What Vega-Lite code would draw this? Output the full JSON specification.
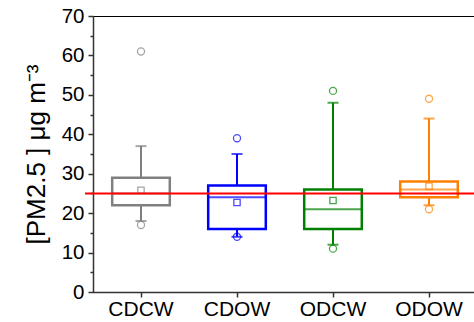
{
  "$schema": "https://vega.github.io/schema/vega-lite/v6.json",
  "width": 384,
  "height": 276,
  "autosize": {"type": "none"},
  "padding": {"left": 93, "top": 16, "right": 0, "bottom": 30},
  "background": "white",
  "config": {
    "view": {"stroke": "#000", "strokeWidth": 1},
    "font": "Liberation Sans"
  },
  "resolve": {"axis": {"y": "independent"}},
  "datasets": {
    "boxes": [
      {"cat": "CDCW", "wlo": 18, "q1": 22, "med": 25, "q3": 29, "whi": 37, "mean": 25.8},
      {"cat": "CDOW", "wlo": 14, "q1": 16, "med": 24, "q3": 27, "whi": 35, "mean": 22.7},
      {"cat": "ODCW", "wlo": 12, "q1": 16, "med": 21, "q3": 26, "whi": 48, "mean": 23.2},
      {"cat": "ODOW", "wlo": 22, "q1": 24, "med": 26, "q3": 28, "whi": 44, "mean": 26.8}
    ],
    "outliers": [
      {"cat": "CDCW", "v": 61}, {"cat": "CDCW", "v": 17},
      {"cat": "CDOW", "v": 39}, {"cat": "CDOW", "v": 14},
      {"cat": "ODCW", "v": 51}, {"cat": "ODCW", "v": 11},
      {"cat": "ODOW", "v": 49}, {"cat": "ODOW", "v": 21}
    ]
  },
  "encoding": {
    "x": {
      "field": "cat", "type": "nominal",
      "sort": ["CDCW", "CDOW", "ODCW", "ODOW"],
      "scale": {"paddingInner": 0, "paddingOuter": 0},
      "axis": {
        "title": null, "labelAngle": 0, "labelFontSize": 21, "labelColor": "#000",
        "labelFont": "Liberation Sans", "tickSize": 5, "tickColor": "#333", "domainColor": "#333",
        "labelPadding": 1, "domainWidth": 1.5, "tickWidth": 1.5
      }
    },
    "color": {
      "field": "cat", "type": "nominal",
      "scale": {"domain": ["CDCW", "CDOW", "ODCW", "ODOW"], "range": ["#808080", "#0000FF", "#008000", "#FF8000"]},
      "legend": null
    }
  },
  "layer": [
    {
      "data": {"name": "boxes"},
      "mark": {"type": "rule", "strokeWidth": 2},
      "encoding": {
        "y": {
          "field": "wlo", "type": "quantitative",
          "scale": {"domain": [0, 70], "nice": false, "zero": false},
          "axis": {
            "orient": "left",
            "title": "[PM2.5 ] μg m⁻³",
            "titleFontSize": 26, "titleFontWeight": "normal", "titleColor": "#000", "titleFont": "Liberation Sans",
            "titlePadding": 12,
            "values": [0, 5, 10, 15, 20, 25, 30, 35, 40, 45, 50, 55, 60, 65, 70],
            "labelOverlap": false,
            "labelExpr": "datum.value % 10 === 0 ? datum.label : ''",
            "tickSize": {"condition": {"test": "datum.value % 10 === 0", "value": 5}, "value": 3},
            "labelFontSize": 20.5, "labelColor": "#000", "labelFont": "Liberation Sans",
            "labelPadding": 4, "grid": false,
            "domainColor": "#333", "tickColor": "#333", "domainWidth": 1.5, "tickWidth": 1.5
          }
        },
        "y2": {"field": "q1"}
      }
    },
    {
      "data": {"name": "boxes"},
      "mark": {"type": "rule", "strokeWidth": 2},
      "encoding": {
        "y": {"field": "q3", "type": "quantitative", "axis": null},
        "y2": {"field": "whi"}
      }
    },
    {
      "data": {"name": "boxes"},
      "mark": {"type": "tick", "orient": "horizontal", "size": 11, "thickness": 2},
      "encoding": {"y": {"field": "whi", "type": "quantitative", "axis": null}}
    },
    {
      "data": {"name": "boxes"},
      "mark": {"type": "tick", "orient": "horizontal", "size": 11, "thickness": 2},
      "encoding": {"y": {"field": "wlo", "type": "quantitative", "axis": null}}
    },
    {
      "data": {"name": "boxes"},
      "mark": {"type": "bar", "width": {"band": 0.6}, "fill": "white", "fillOpacity": 0, "strokeWidth": 2.5},
      "encoding": {
        "y": {"field": "q1", "type": "quantitative", "axis": null},
        "y2": {"field": "q3"},
        "stroke": {"field": "cat", "type": "nominal", "scale": {"domain": ["CDCW", "CDOW", "ODCW", "ODOW"], "range": ["#808080", "#0000FF", "#008000", "#FF8000"]}, "legend": null}
      }
    },
    {
      "data": {"name": "boxes"},
      "mark": {"type": "tick", "orient": "horizontal", "size": 58, "thickness": 2},
      "encoding": {"y": {"field": "med", "type": "quantitative", "axis": null}}
    },
    {
      "data": {"name": "boxes"},
      "mark": {"type": "point", "shape": "square", "size": 40, "filled": false, "strokeWidth": 1.3},
      "encoding": {"y": {"field": "mean", "type": "quantitative", "axis": null}}
    },
    {
      "data": {"name": "outliers"},
      "mark": {"type": "point", "shape": "circle", "size": 50, "filled": false, "strokeWidth": 1.3},
      "encoding": {"y": {"field": "v", "type": "quantitative", "axis": null}}
    },
    {
      "data": {"values": [{"ref": 25}]},
      "mark": {"type": "rule", "color": "#FF0000", "strokeWidth": 2},
      "encoding": {
        "y": {"field": "ref", "type": "quantitative", "axis": null},
        "x": {"value": -8},
        "x2": {"value": 384},
        "color": {"value": "#FF0000"}
      }
    }
  ]
}
